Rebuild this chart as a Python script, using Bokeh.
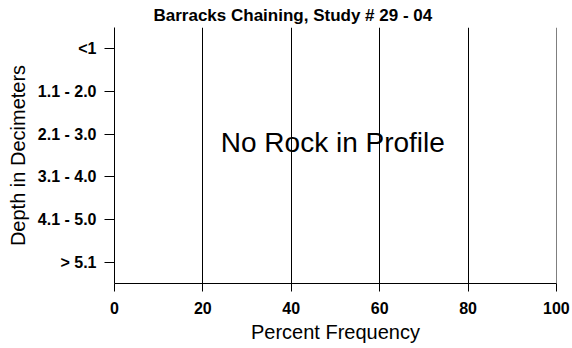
from bokeh.plotting import figure
from bokeh.models import FactorRange, Range1d, Label, FixedTicker
from bokeh.embed import file_html
from bokeh.resources import INLINE

title_text = "Barracks Chaining, Study # 29 - 04"
depth_classes = ["<1", "1.1 - 2.0", "2.1 - 3.0", "3.1 - 4.0", "4.1 - 5.0", "> 5.1"]
x_ticks = [0, 20, 40, 60, 80, 100]
note_text = "No Rock in Profile"

FONT = "Liberation Sans"

p = figure(width=572, height=348, output_backend="svg", toolbar_location=None,
           y_range=FactorRange(factors=list(reversed(depth_classes))),
           x_range=Range1d(0, 100.02),
           min_border_left=114, min_border_right=16, min_border_top=27, min_border_bottom=65)
p.outline_line_color = None
p.background_fill_color = "white"
p.border_fill_color = "white"

p.title.text = title_text
p.title.align = "left"
p.title.offset = 39
p.title.text_font = FONT
p.title.text_font_size = "17px"
p.title.text_font_style = "bold"
p.title.text_color = "black"
p.title.standoff = 5

p.xaxis.ticker = FixedTicker(ticks=x_ticks)
p.xaxis.axis_label = "Percent Frequency"
p.yaxis.axis_label = "Depth in Decimeters"
for ax in (p.xaxis[0], p.yaxis[0]):
    ax.axis_label_text_font = FONT
    ax.axis_label_text_font_size = "20px"
    ax.axis_label_text_font_style = "normal"
    ax.axis_label_text_color = "black"
    ax.major_label_text_font = FONT
    ax.major_label_text_font_size = "16px"
    ax.major_label_text_font_style = "bold"
    ax.major_label_text_color = "black"
    ax.axis_line_color = "black"
    ax.major_tick_line_color = "black"
    ax.major_tick_in = 0
    ax.minor_tick_line_color = None
p.xaxis.major_tick_out = 8
p.yaxis.major_tick_out = 10
p.xaxis.major_label_standoff = 10
p.yaxis.major_label_standoff = 8
p.xaxis.axis_label_standoff = 4
p.yaxis.axis_label_standoff = 6

p.xgrid.ticker = FixedTicker(ticks=x_ticks)
p.xgrid.grid_line_color = "black"
p.xgrid.grid_line_width = 1
p.ygrid.grid_line_color = None

p.add_layout(Label(x=49.4, y=3.31, text=note_text, text_align="center", text_baseline="alphabetic",
                   text_font=FONT, text_font_size="28px", text_color="black"))

open("out.html", "w").write(file_html(p, INLINE))
